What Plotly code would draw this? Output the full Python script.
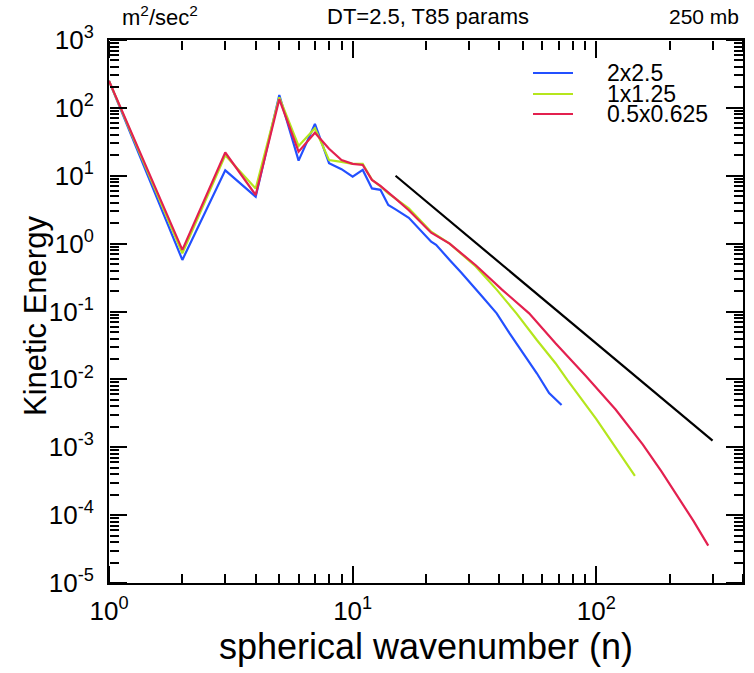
import plotly.graph_objects as go

# ---- data ----
n_blue = [1, 2, 3, 4, 5, 6, 7, 8, 9, 10, 11, 12, 13, 14, 15, 17, 21, 22, 25, 28, 34, 39, 44, 50, 57, 64, 72]
ke_blue = [250, 0.575, 12, 4.9, 155, 16.7, 58, 15.3, 12.5, 9.7, 12.2, 6.5, 6.2, 3.7, 3.2, 2.4, 1.07, 0.96,
           0.575, 0.37, 0.166, 0.094, 0.048, 0.0243, 0.0123, 6.3e-3, 4.2e-3]

n_yel = [1, 2, 3, 4, 5, 6, 7, 8, 9, 10, 11, 12, 13, 14, 15, 17, 21, 25, 32, 39, 47, 57, 68, 76, 100, 121, 144]
ke_yel = [250, 0.72, 20, 6.5, 143, 27.5, 50, 17, 16, 15, 15, 8.7, 7, 5.5, 4.6, 3.3, 1.5, 1.0, 0.46, 0.21,
          0.094, 0.038, 0.0173, 9.8e-3, 2.6e-3, 9.5e-4, 3.8e-4]

n_red = [1, 2, 3, 4, 5, 6, 7, 8, 9, 10, 11, 12, 13, 14, 15, 17, 21, 25, 32, 41, 53, 68, 90, 120, 155, 185,
         211, 250, 288]
ke_red = [250, 0.81, 22, 5.2, 134, 22.6, 43, 25, 17, 15, 14.4, 8.7, 7.1, 5.7, 4.6, 3.1, 1.45, 1.0, 0.48, 0.21,
          0.094, 0.034, 0.0115, 3.6e-3, 1.1e-3, 4.4e-4, 2.1e-4, 8.3e-5, 3.56e-5]

n_ref = [15, 300]
ke_ref = [10, 1.25e-3]

series_names = ["2x2.5", "1x1.25", "0.5x0.625"]
series_colors = ["#2350ff", "#b5e61d", "#e3204f"]

x_major = [1, 10, 100]
x_major_text = ["10<sup>0</sup>", "10<sup>1</sup>", "10<sup>2</sup>"]

y_exps = [3, 2, 1, 0, -1, -2, -3, -4, -5]
y_major = [10.0 ** e for e in y_exps]
y_major_text = ["10<sup>%d</sup>" % e for e in y_exps]

X_RANGE = [0, 2.602]
Y_RANGE = [-5, 3]

FONT = "Liberation Sans, Arial, Helvetica, sans-serif"

W, H = 754, 673
L, T, R, B = 109, 40, 11, 90
PW, PH = W - L - R, H - T - B


def px(x):
    return (x - L) / PW


def py(y):
    return 1 - (y - T) / PH


fig = go.Figure()
for xs, ys, name, col in zip([n_blue, n_yel, n_red], [ke_blue, ke_yel, ke_red], series_names, series_colors):
    fig.add_trace(go.Scatter(x=xs, y=ys, mode="lines", name=name, showlegend=False,
                             line=dict(color=col, width=2.2)))
fig.add_trace(go.Scatter(x=n_ref, y=ke_ref, mode="lines", name="n^-3", showlegend=False,
                         line=dict(color="black", width=2.2)))
# empty traces that make the tick-only axes (inward ticks on every side) exist
fig.add_trace(go.Scatter(x=[], y=[], xaxis="x2", yaxis="y2", showlegend=False, hoverinfo="skip"))
fig.add_trace(go.Scatter(x=[], y=[], xaxis="x3", yaxis="y3", showlegend=False, hoverinfo="skip"))

# main axes: frame + labels
frame = dict(type="log", showgrid=False, zeroline=False, automargin=False,
             showline=True, linecolor="black", linewidth=2, mirror=True, ticks="",
             tickfont=dict(family=FONT, size=26, color="black"))

# tick-only axes sitting on the frame edges with ticks pointing into the plot
tick_only = dict(type="log", showgrid=False, zeroline=False, automargin=False,
                 showline=False, showticklabels=False, anchor="free",
                 ticks="outside", ticklen=17, tickwidth=2, tickcolor="black",
                 minor=dict(dtick="D1", ticks="outside", ticklen=9, tickwidth=1.5,
                            tickcolor="black", showgrid=False))

fig.update_layout(
    xaxis=dict(**frame, range=X_RANGE, tickmode="array", tickvals=x_major, ticktext=x_major_text,
               ticklabelstandoff=4,
               title=dict(text="spherical wavenumber (n)",
                          font=dict(family=FONT, size=36, color="black"), standoff=9)),
    yaxis=dict(**frame, range=Y_RANGE, tickmode="array", tickvals=y_major, ticktext=y_major_text,
               ticklabelstandoff=8),
    xaxis2=dict(**tick_only, range=X_RANGE, overlaying="x", side="top", position=0,
                tickmode="array", tickvals=x_major),
    xaxis3=dict(**tick_only, range=X_RANGE, overlaying="x", side="bottom", position=1,
                tickmode="array", tickvals=x_major),
    yaxis2=dict(**tick_only, range=Y_RANGE, overlaying="y", side="right", position=0,
                tickmode="array", tickvals=y_major),
    yaxis3=dict(**tick_only, range=Y_RANGE, overlaying="y", side="left", position=1,
                tickmode="array", tickvals=y_major),
)

annotations = [
    dict(text="Kinetic Energy", xref="paper", yref="paper", x=px(35), y=py(316), textangle=-90,
         xanchor="center", yanchor="middle", showarrow=False, font=dict(size=31)),
    dict(text="m<sup>2</sup>/sec<sup>2</sup>", xref="paper", yref="paper", x=px(120), y=py(16),
         xanchor="left", yanchor="middle", showarrow=False, font=dict(size=22)),
    dict(text="DT=2.5, T85 params", xref="paper", yref="paper", x=px(428), y=py(16),
         xanchor="center", yanchor="middle", showarrow=False, font=dict(size=22)),
    dict(text="250 mb", xref="paper", yref="paper", x=px(741), y=py(16),
         xanchor="right", yanchor="middle", showarrow=False, font=dict(size=21)),
]
shapes = []
legend_rows = [73, 94, 114]
for name, col, yrow in zip(series_names, series_colors, legend_rows):
    shapes.append(dict(type="line", xref="paper", yref="paper", x0=px(533), x1=px(573),
                       y0=py(yrow), y1=py(yrow), line=dict(color=col, width=2.2)))
    annotations.append(dict(text=name, xref="paper", yref="paper", x=px(605), y=py(yrow),
                            xanchor="left", yanchor="middle", showarrow=False, height=20,
                            font=dict(size=23, color="black")))

fig.update_layout(
    width=W, height=H, autosize=False,
    margin=dict(l=L, r=R, t=T, b=B, pad=0),
    paper_bgcolor="white", plot_bgcolor="white",
    font=dict(family=FONT, color="black"),
    showlegend=False,
    annotations=annotations,
    shapes=shapes,
)

fig.write_html("out.html", config={"displayModeBar": False},
               post_script="document.body.style.margin='0px';")
